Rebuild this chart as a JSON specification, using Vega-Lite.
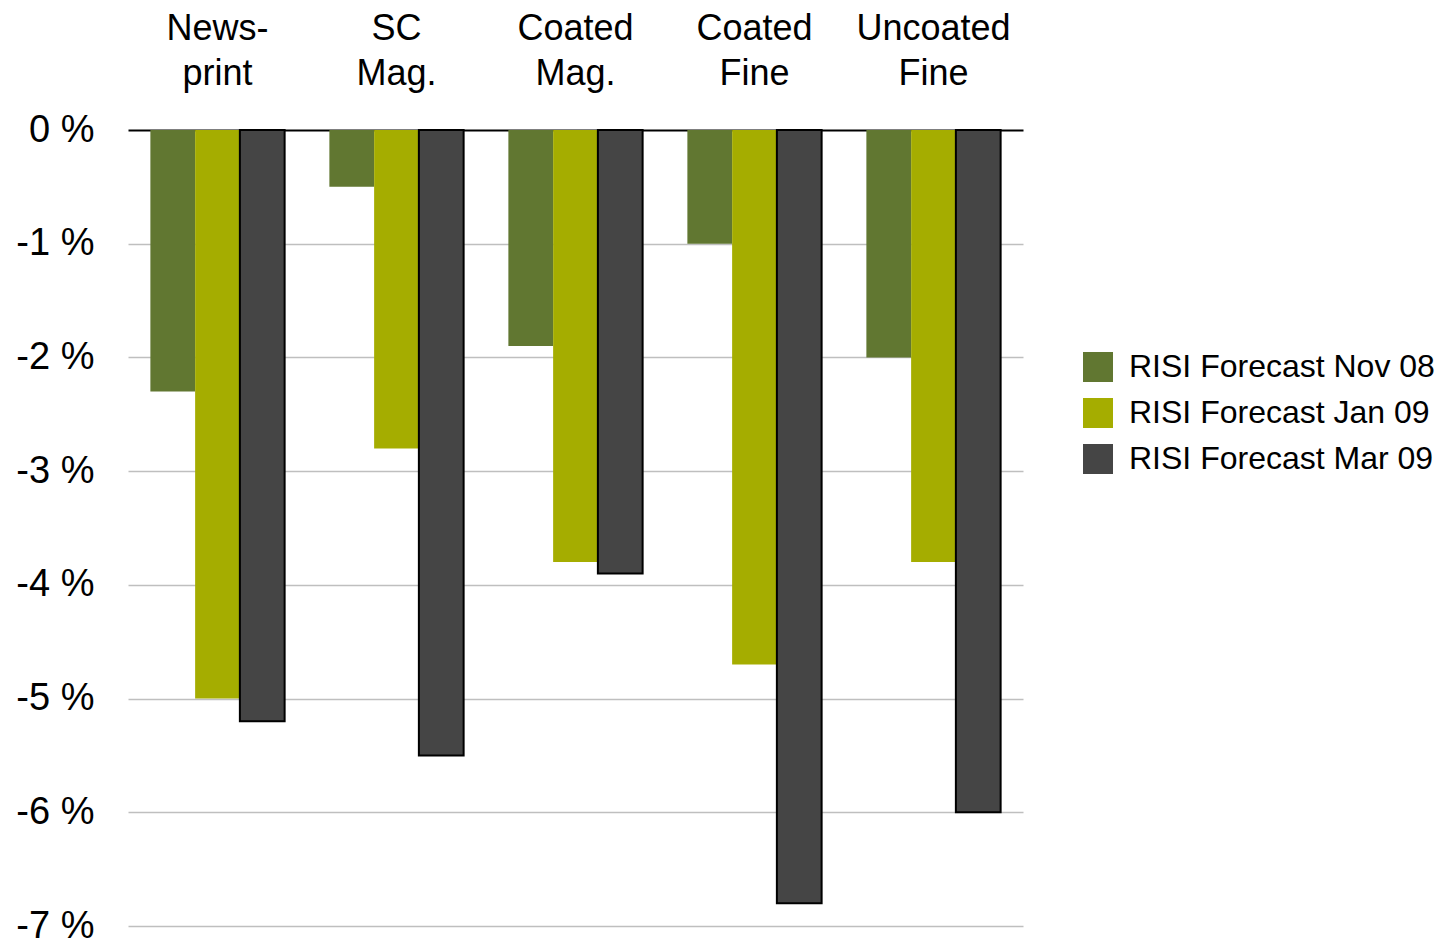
{
  "$schema": "https://vega.github.io/schema/vega-lite/v6.json",
  "autosize": {"type": "none"},
  "width": 895,
  "height": 796,
  "padding": {"left": 128, "top": 130, "right": 416, "bottom": 14},
  "background": "white",
  "config": {
    "font": "Liberation Sans",
    "view": {"stroke": null}
  },
  "data": {
    "values": [
      {"grade": "News-|print", "series": "RISI Forecast Nov 08", "value": -2.3},
      {"grade": "News-|print", "series": "RISI Forecast Jan 09", "value": -5.0},
      {"grade": "News-|print", "series": "RISI Forecast Mar 09", "value": -5.2},
      {"grade": "SC|Mag.", "series": "RISI Forecast Nov 08", "value": -0.5},
      {"grade": "SC|Mag.", "series": "RISI Forecast Jan 09", "value": -2.8},
      {"grade": "SC|Mag.", "series": "RISI Forecast Mar 09", "value": -5.5},
      {"grade": "Coated|Mag.", "series": "RISI Forecast Nov 08", "value": -1.9},
      {"grade": "Coated|Mag.", "series": "RISI Forecast Jan 09", "value": -3.8},
      {"grade": "Coated|Mag.", "series": "RISI Forecast Mar 09", "value": -3.9},
      {"grade": "Coated|Fine", "series": "RISI Forecast Nov 08", "value": -1.0},
      {"grade": "Coated|Fine", "series": "RISI Forecast Jan 09", "value": -4.7},
      {"grade": "Coated|Fine", "series": "RISI Forecast Mar 09", "value": -6.8},
      {"grade": "Uncoated|Fine", "series": "RISI Forecast Nov 08", "value": -2.0},
      {"grade": "Uncoated|Fine", "series": "RISI Forecast Jan 09", "value": -3.8},
      {"grade": "Uncoated|Fine", "series": "RISI Forecast Mar 09", "value": -6.0}
    ]
  },
  "mark": {"type": "bar", "strokeWidth": 2},
  "encoding": {
    "x": {
      "field": "grade",
      "type": "nominal",
      "sort": ["News-|print", "SC|Mag.", "Coated|Mag.", "Coated|Fine", "Uncoated|Fine"],
      "scale": {"paddingInner": 0.25, "paddingOuter": 0.125},
      "axis": {
        "orient": "top",
        "title": null,
        "domain": false,
        "ticks": false,
        "grid": false,
        "labelAngle": 0,
        "labelOverlap": false,
        "labelFont": "Liberation Sans",
        "labelFontSize": 36,
        "labelColor": "black",
        "labelLineHeight": 45,
        "labelPadding": 83,
        "labelExpr": "split(datum.label, '|')"
      }
    },
    "xOffset": {
      "field": "series",
      "type": "nominal",
      "sort": ["RISI Forecast Nov 08", "RISI Forecast Jan 09", "RISI Forecast Mar 09"]
    },
    "y": {
      "field": "value",
      "type": "quantitative",
      "scale": {"domain": [-7, 0], "nice": false, "zero": true},
      "axis": {
        "title": null,
        "domain": false,
        "ticks": false,
        "values": [0, -1, -2, -3, -4, -5, -6, -7],
        "labelOverlap": false,
        "labelFont": "Liberation Sans",
        "labelFontSize": 38,
        "labelColor": "black",
        "labelPadding": 34,
        "labelExpr": "datum.value + ' %'",
        "grid": true,
        "gridColor": {"condition": {"test": "datum.value === 0", "value": "black"}, "value": "#BFBFBF"},
        "gridWidth": {"condition": {"test": "datum.value === 0", "value": 2}, "value": 1.5}
      }
    },
    "fill": {
      "field": "series",
      "type": "nominal",
      "sort": ["RISI Forecast Nov 08", "RISI Forecast Jan 09", "RISI Forecast Mar 09"],
      "scale": {
        "domain": ["RISI Forecast Nov 08", "RISI Forecast Jan 09", "RISI Forecast Mar 09"],
        "range": ["#617731", "#A5AD00", "#454545"]
      },
      "legend": {
        "title": null,
        "orient": "none",
        "legendX": 954,
        "legendY": 221,
        "symbolType": "square",
        "symbolSize": 900,
        "symbolStrokeWidth": 0,
        "symbolOpacity": 1,
        "labelFont": "Liberation Sans",
        "labelFontSize": 32,
        "labelColor": "black",
        "labelOffset": 15,
        "rowPadding": 14,
        "labelLimit": 400
      }
    },
    "stroke": {
      "condition": {"test": "datum.series === 'RISI Forecast Mar 09'", "value": "black"},
      "value": null
    }
  }
}
